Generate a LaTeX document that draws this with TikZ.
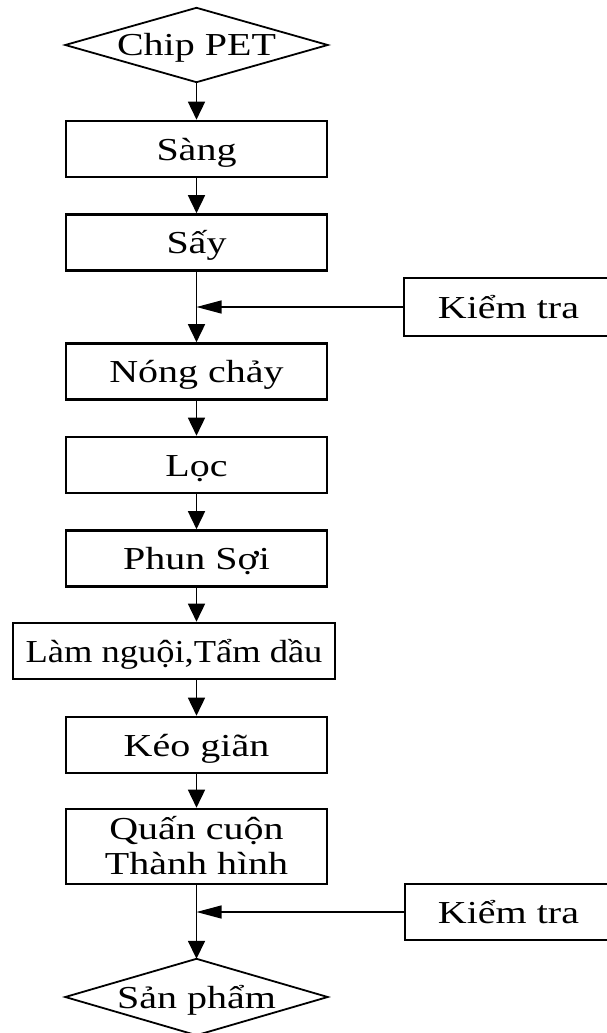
\documentclass[tikz,border=0pt]{standalone}
\usepackage{fontspec}
\setmainfont{Liberation Serif}[FakeStretch=1.25]
\newfontfamily\narrowserif{Liberation Serif}[FakeStretch=1.14]
\usetikzlibrary{arrows.meta}
\begin{document}
\begin{tikzpicture}[x=1pt,y=-1pt,
  font=\fontsize{32}{35}\selectfont,
  txt/.style={text height=22pt, text depth=0pt},
  box/.style={draw, line width=2.6pt, minimum width=261pt, minimum height=56pt, inner sep=0pt, align=center, txt},
  dia/.style={minimum width=262pt, minimum height=74pt, inner sep=0pt, txt},
  diaborder/.style={line width=1.8pt, line join=miter},
  flow/.style={line width=1.6pt, -{Triangle[length=18pt,width=17pt]}},
  side/.style={line width=1.2pt, -{Triangle[length=25pt,width=13pt]}}]
\useasboundingbox (0,0) rectangle (606,1033);
\node[dia] (chip) at (196.5,45) {Chip PET};
\draw[diaborder] (chip.west) -- (chip.north) -- (chip.east) -- (chip.south) -- cycle;
\node[box] (sang) at (196.5,149) {Sàng};
\node[box] (say) at (196.5,242.5) {Sấy};
\node[box] (nong) at (196.5,371.5) {Nóng chảy};
\node[box] (loc) at (196.5,465) {Lọc};
\node[box] (phun) at (196.5,558.5) {Phun Sợi};
\node[box, minimum width=322pt, font=\narrowserif\fontsize{32}{35}\selectfont] (lam) at (174,651) {Làm nguội,Tẩm dầu};
\node[box] (keo) at (196.5,745) {Kéo giãn};
\node[box, minimum height=75pt, text height=57pt, text depth=2pt] (quan) at (196.5,846.5) {Quấn cuộn\\Thành hình};
\node[dia, minimum height=76pt] (san) at (196.5,997) {Sản phẩm};
\draw[diaborder] (san.west) -- (san.north) -- (san.east) -- (san.south) -- cycle;
\node[box, minimum width=209pt, minimum height=58pt] (k1) at (508.5,307) {Kiểm tra};
\node[box, minimum width=207pt, minimum height=56pt] (k2) at (508.5,912) {Kiểm tra};
\draw[flow] (chip.south) -- (sang.north);
\draw[flow] (sang.south) -- (say.north);
\draw[flow] (say.south) -- (nong.north);
\draw[flow] (nong.south) -- (loc.north);
\draw[flow] (loc.south) -- (phun.north);
\draw[flow] (phun.south) -- (phun.south |- lam.north);
\draw[flow] (phun.south |- lam.south) -- (keo.north);
\draw[flow] (keo.south) -- (quan.north);
\draw[flow] (quan.south) -- (san.north);
\draw[side] (k1.west) -- (k1.west -| say.south);
\draw[side] (k2.west) -- (k2.west -| quan.south);
\end{tikzpicture}
\end{document}
